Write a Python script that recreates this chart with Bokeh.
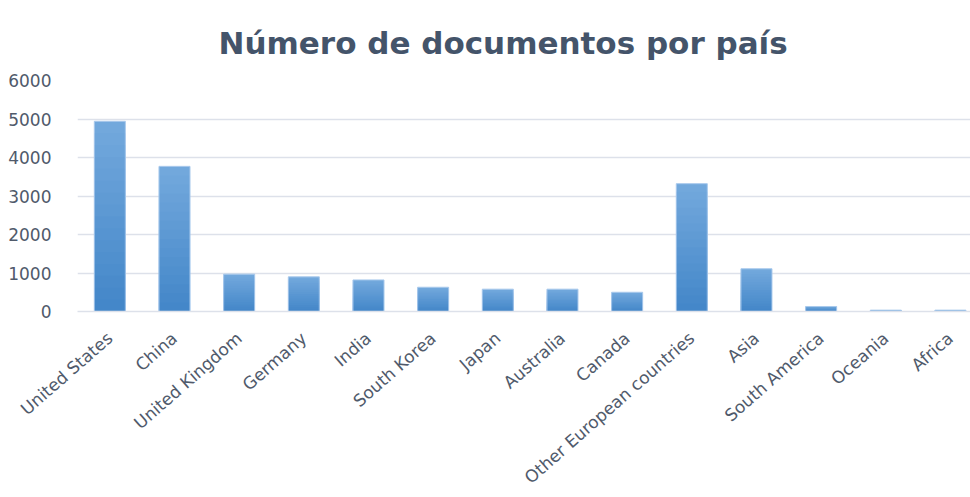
from bokeh.plotting import figure
from bokeh.models import FixedTicker, Range1d, ColumnDataSource
from bokeh.embed import file_html
from bokeh.resources import INLINE

title_text = "Número de documentos por país"
categories = ["United States", "China", "United Kingdom", "Germany", "India",
              "South Korea", "Japan", "Australia", "Canada",
              "Other European countries", "Asia", "South America", "Oceania", "Africa"]
documents = [4940, 3770, 970, 900, 820, 630, 580, 580, 500, 3320, 1110, 130, 35, 35]
y_ticks = [0, 1000, 2000, 3000, 4000, 5000, 6000]

TEXT = "#505a6b"
GRID = "#dde1ea"
FONT = "DejaVu Sans"

p = figure(width=970, height=497, output_backend="svg", toolbar_location=None,
           x_range=Range1d(-0.5, 13.31), y_range=Range1d(0, 6000),
           min_border_left=77, min_border_right=0, min_border_top=80, min_border_bottom=186,
           title=title_text)
p.outline_line_color = None
p.background_fill_color = "white"
p.border_fill_color = "white"

p.title.text_font = FONT
p.title.text_font_size = "31px"
p.title.text_font_style = "bold"
p.title.text_color = "#44546a"
p.title.align = "left"
p.title.offset = 141
p.title.standoff = 39

# gradient-like bars: overlapping layers, light at top, darker towards the bottom
n_bands = 16
c_bottom = (0x42, 0x86, 0xc8)
c_top = (0x74, 0xa9, 0xdd)
xs = list(range(len(categories)))
for k in range(n_bands):
    frac = 1 - k / n_bands
    t = 1 - (k + 0.5) / n_bands
    col = "#%02x%02x%02x" % tuple(int(round(b + (a - b) * t)) for a, b in zip(c_top, c_bottom))
    src = ColumnDataSource(dict(x=xs, top=[v * frac for v in documents]))
    p.vbar(x="x", bottom=0, top="top", width=0.48, source=src,
           fill_color=col, line_color=None)
# light outline
p.vbar(x=xs, top=documents, width=0.48, fill_color=None, line_color="#a9c9ec", line_width=1)

p.xaxis.ticker = FixedTicker(ticks=xs)
p.xaxis.major_label_overrides = {i: c for i, c in enumerate(categories)}
p.xaxis.major_label_orientation = 0.72
p.xaxis.major_tick_line_color = None
p.xaxis.minor_tick_line_color = None
p.xaxis.axis_line_color = GRID
p.xaxis.axis_line_width = 1.5
p.xaxis.major_label_text_font = FONT
p.xaxis.major_label_text_font_size = "17px"
p.xaxis.major_label_text_color = TEXT
p.xaxis.major_label_standoff = 18

p.yaxis.ticker = FixedTicker(ticks=y_ticks)
p.yaxis.axis_line_color = None
p.yaxis.major_tick_line_color = None
p.yaxis.minor_tick_line_color = None
p.yaxis.major_label_text_font = FONT
p.yaxis.major_label_text_font_size = "17px"
p.yaxis.major_label_text_color = TEXT
p.yaxis.major_label_standoff = 20

p.xgrid.grid_line_color = None
p.ygrid.grid_line_color = GRID
p.ygrid.grid_line_width = 1.5
p.ygrid.ticker = FixedTicker(ticks=y_ticks)

open("out.html", "w").write(file_html(p, INLINE))
